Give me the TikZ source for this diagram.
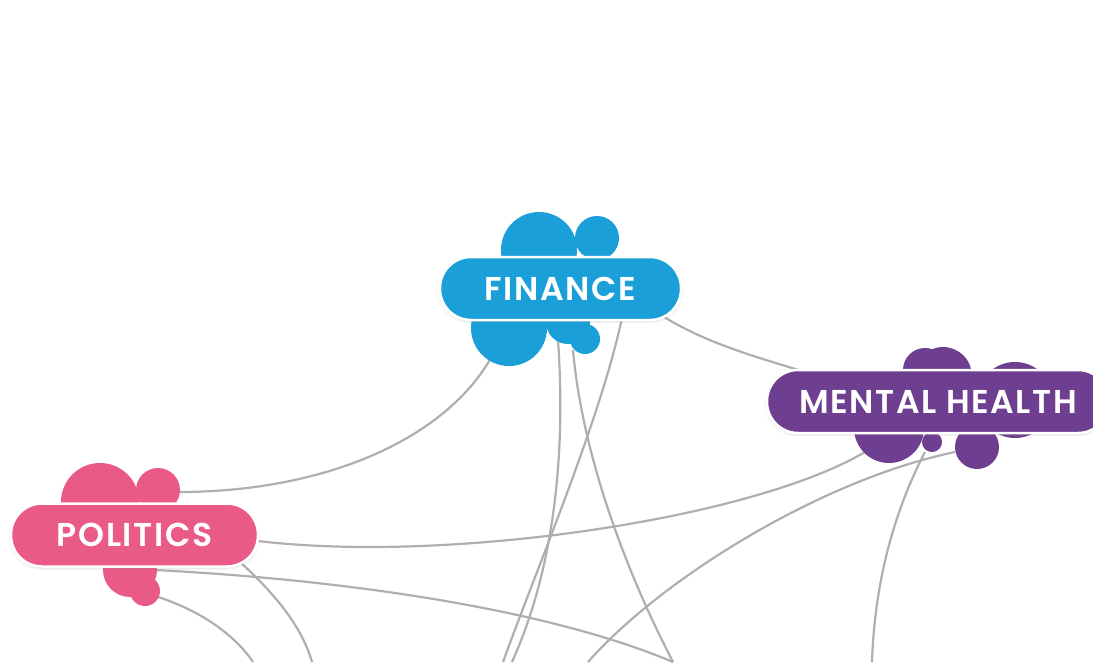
\documentclass[tikz,border=0pt]{standalone}
\usepackage{fontspec}
\setmainfont{Poppins}
\newfontfamily\pillfont{Poppins SemiBold}
\usetikzlibrary{shadows}
\pgfdeclarelayer{edges}
\pgfdeclarelayer{blobs}
\pgfsetlayers{edges,blobs,main}
\definecolor{finblue}{HTML}{1B9FD8}
\definecolor{mhpurple}{HTML}{6E3F91}
\definecolor{polpink}{HTML}{E95A87}
\definecolor{edgegray}{HTML}{AFAFAF}
\begin{document}
\begin{tikzpicture}[x=1pt,y=-1pt,
  pill/.style={draw=white, line width=2.5pt, rounded corners=31pt, minimum height=63pt,
    inner sep=0pt, text=white,
    font=\pillfont\fontsize{33}{33}\selectfont\addfontfeature{LetterSpace=5},
    drop shadow={opacity=0.07, shadow xshift=-2.5pt, shadow yshift=-3pt},
    drop shadow={opacity=0.07, shadow xshift=2.5pt, shadow yshift=-3pt},
    drop shadow={opacity=0.10, shadow xshift=0pt, shadow yshift=-1.5pt}},
  link/.style={draw=edgegray, line width=2.2pt},
]
\useasboundingbox (0,0) rectangle (1093,662);

% pills
\node[pill, fill=finblue, minimum width=241pt] (fin) at (560.5,288.5) {FINANCE};
\node[pill, fill=mhpurple, minimum width=342pt] (mh) at (938,401.5) {MENTAL HEALTH};
\node[pill, fill=polpink, minimum width=247pt] (pol) at (134.5,535) {POLITICS};

% blobs
\begin{pgfonlayer}{blobs}
  \fill[finblue] (539,250) circle[radius=38];
  \fill[finblue] (597,238) circle[radius=22];
  \fill[finblue] (509,328) circle[radius=38];
  \fill[finblue] (568,322) circle[radius=22];
  \fill[finblue] (585,339) circle[radius=15];
  \fill[mhpurple] (925,370) circle[radius=22];
  \fill[mhpurple] (943,376) circle[radius=29];
  \fill[mhpurple] (1015,400) circle[radius=38];
  \fill[mhpurple] (889,428) circle[radius=35];
  \fill[mhpurple] (932,442) circle[radius=10];
  \fill[mhpurple] (977,447) circle[radius=22];
  \fill[polpink] (100,502) circle[radius=39];
  \fill[polpink] (158,490) circle[radius=22];
  \fill[polpink] (130,570) circle[radius=27];
  \fill[polpink] (145,591) circle[radius=15];
\end{pgfonlayer}

% connector end points
\coordinate (polK) at (178,492);
\coordinate (finK) at (492,356);
\coordinate (finD) at (650,308);
\coordinate (mhD) at (815,375);
\coordinate (polI) at (250,540);
\coordinate (mhI) at (865,452);
\coordinate (mhE) at (955,452);
\coordinate (outE) at (588,662);
\coordinate (mhJ) at (925,452);
\coordinate (outJ) at (872,662);
\coordinate (finA) at (558,340);
\coordinate (outA) at (512,662);
\coordinate (finB) at (573,350);
\coordinate (outB) at (673,662);
\coordinate (finC) at (622,318);
\coordinate (outC) at (503,662);
\coordinate (polF) at (155,570);
\coordinate (outF) at (673,662);
\coordinate (polG) at (240,562);
\coordinate (outG) at (312,662);
\coordinate (polH) at (155,596);
\coordinate (outH) at (253,662);

\begin{pgfonlayer}{edges}
  \draw[link] (polK) .. controls (330,492) and (448,436) .. (finK);
  \draw[link] (finD) .. controls (700,342) and (750,355) .. (mhD);
  \draw[link] (polI) .. controls (440,565) and (750,520) .. (mhI);
  \draw[link] (mhE) .. controls (820,480) and (660,580) .. (outE);
  \draw[link] (mhJ) .. controls (900,500) and (875,570) .. (outJ);
  \draw[link] (finA) .. controls (565,440) and (558,560) .. (outA);
  \draw[link] (finB) .. controls (580,430) and (610,540) .. (outB);
  \draw[link] (finC) .. controls (600,420) and (540,560) .. (outC);
  \draw[link] (polF) .. controls (350,580) and (550,610) .. (outF);
  \draw[link] (polG) .. controls (265,585) and (300,620) .. (outG);
  \draw[link] (polH) .. controls (200,610) and (235,635) .. (outH);
\end{pgfonlayer}
\end{tikzpicture}
\end{document}
